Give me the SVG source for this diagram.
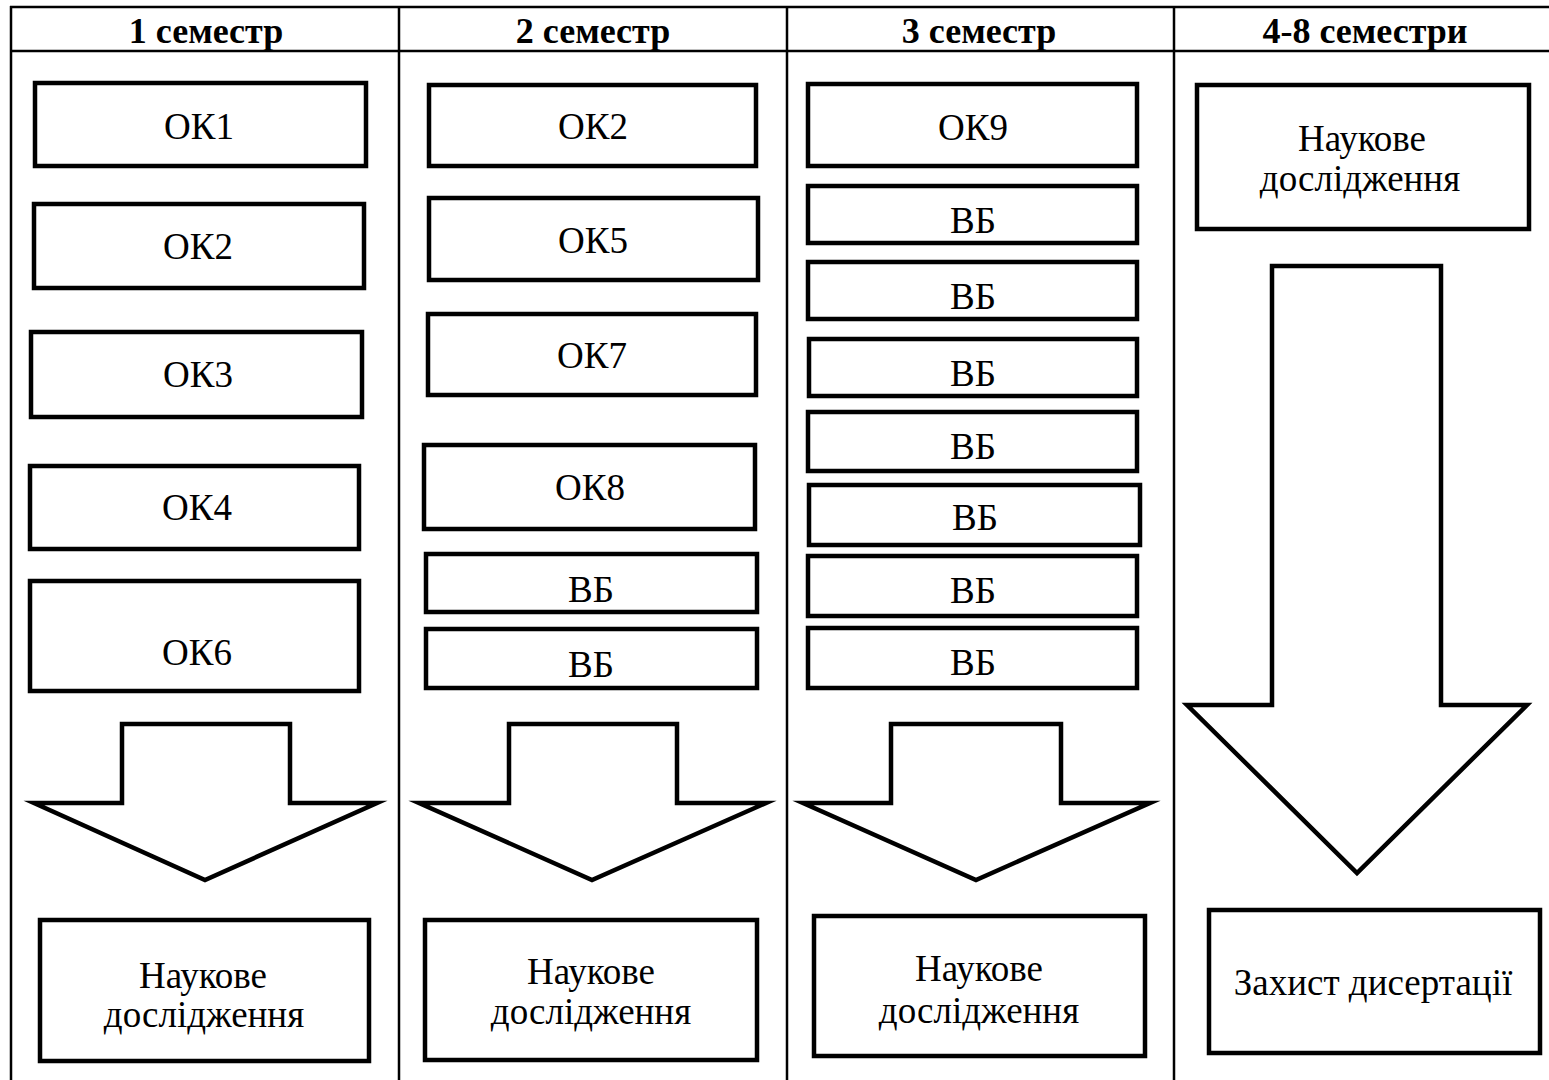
<svg xmlns="http://www.w3.org/2000/svg" width="1549" height="1080" viewBox="0 0 1549 1080">
<style>
.grid{stroke:#000;stroke-width:2.5;fill:none}
.box{fill:#fff;stroke:#000;stroke-width:4.5}
.arr{fill:#fff;stroke:#000;stroke-width:4.5;stroke-linejoin:miter;stroke-miterlimit:10}
text{font-family:"Liberation Serif","Times New Roman",serif;font-size:37px;fill:#000;text-anchor:middle}
.hd{font-weight:bold;font-size:36px}
</style>
<rect width="1549" height="1080" fill="#fff"/>
<g id="table" class="grid">
<line x1="10" y1="7" x2="1549" y2="7"/>
<line x1="10" y1="51" x2="1549" y2="51"/>
<line x1="11" y1="6" x2="11" y2="1080"/>
<line x1="399" y1="6" x2="399" y2="1080"/>
<line x1="787" y1="6" x2="787" y2="1080"/>
<line x1="1174" y1="6" x2="1174" y2="1080"/>
</g>
<g id="headers">
<text class="hd" x="206" y="43">1 семестр</text>
<text class="hd" x="593" y="43">2 семестр</text>
<text class="hd" x="979" y="43">3 семестр</text>
<text class="hd" x="1365" y="43">4-8 семестри</text>
</g>
<g id="connectors">
<polygon class="arr" points="122,724 290,724 290,803 377,803 205,880 34,803 122,803"/>
<polygon class="arr" points="509,724 677,724 677,803 766,803 592,880 419,803 509,803"/>
<polygon class="arr" points="891,724 1061,724 1061,803 1150,803 976,880 803,803 891,803"/>
<polygon class="arr" points="1272,266 1441,266 1441,705 1527,705 1357,873 1187,705 1272,705"/>
</g>
<g id="c1-ok1"><rect class="box" x="35" y="83" width="331" height="83"/><text x="199" y="139">ОК1</text></g>
<g id="c1-ok2"><rect class="box" x="34" y="204" width="330" height="84"/><text x="198" y="259">ОК2</text></g>
<g id="c1-ok3"><rect class="box" x="31" y="332" width="331" height="85"/><text x="198" y="387">ОК3</text></g>
<g id="c1-ok4"><rect class="box" x="30" y="466" width="329" height="83"/><text x="197" y="520">ОК4</text></g>
<g id="c1-ok6"><rect class="box" x="30" y="581" width="329" height="110"/><text x="197" y="665">ОК6</text></g>
<g id="c1-research"><rect class="box" x="40" y="920" width="329" height="141"/><text x="203" y="988">Наукове</text><text x="204" y="1027">дослідження</text></g>
<g id="c2-ok2"><rect class="box" x="429" y="85" width="327" height="81"/><text x="593" y="139">ОК2</text></g>
<g id="c2-ok5"><rect class="box" x="429" y="198" width="329" height="82"/><text x="593" y="253">ОК5</text></g>
<g id="c2-ok7"><rect class="box" x="428" y="314" width="328" height="81"/><text x="592" y="368">ОК7</text></g>
<g id="c2-ok8"><rect class="box" x="424" y="445" width="331" height="84"/><text x="590" y="500">ОК8</text></g>
<g id="c2-vb1"><rect class="box" x="426" y="554" width="331" height="58"/><text x="591" y="602">ВБ</text></g>
<g id="c2-vb2"><rect class="box" x="426" y="629" width="331" height="59"/><text x="591" y="677">ВБ</text></g>
<g id="c2-research"><rect class="box" x="425" y="920" width="332" height="140"/><text x="591" y="984">Наукове</text><text x="591" y="1024">дослідження</text></g>
<g id="c3-ok9"><rect class="box" x="808" y="84" width="329" height="82"/><text x="973" y="140">ОК9</text></g>
<g id="c3-vb1"><rect class="box" x="808" y="186" width="329" height="57"/><text x="973" y="233">ВБ</text></g>
<g id="c3-vb2"><rect class="box" x="808" y="262" width="329" height="57"/><text x="973" y="309">ВБ</text></g>
<g id="c3-vb3"><rect class="box" x="809" y="339" width="328" height="57"/><text x="973" y="386">ВБ</text></g>
<g id="c3-vb4"><rect class="box" x="808" y="412" width="329" height="59"/><text x="973" y="459">ВБ</text></g>
<g id="c3-vb5"><rect class="box" x="809" y="485" width="331" height="60"/><text x="975" y="530">ВБ</text></g>
<g id="c3-vb6"><rect class="box" x="808" y="556" width="329" height="60"/><text x="973" y="603">ВБ</text></g>
<g id="c3-vb7"><rect class="box" x="808" y="628" width="329" height="60"/><text x="973" y="675">ВБ</text></g>
<g id="c3-research"><rect class="box" x="814" y="916" width="331" height="140"/><text x="979" y="981">Наукове</text><text x="979" y="1023">дослідження</text></g>
<g id="c4-research"><rect class="box" x="1197" y="85" width="332" height="144"/><text x="1362" y="151">Наукове</text><text x="1360" y="191">дослідження</text></g>
<g id="c4-defense"><rect class="box" x="1209" y="910" width="331" height="143"/><text x="1373" y="995">Захист дисертації</text></g>
</svg>
